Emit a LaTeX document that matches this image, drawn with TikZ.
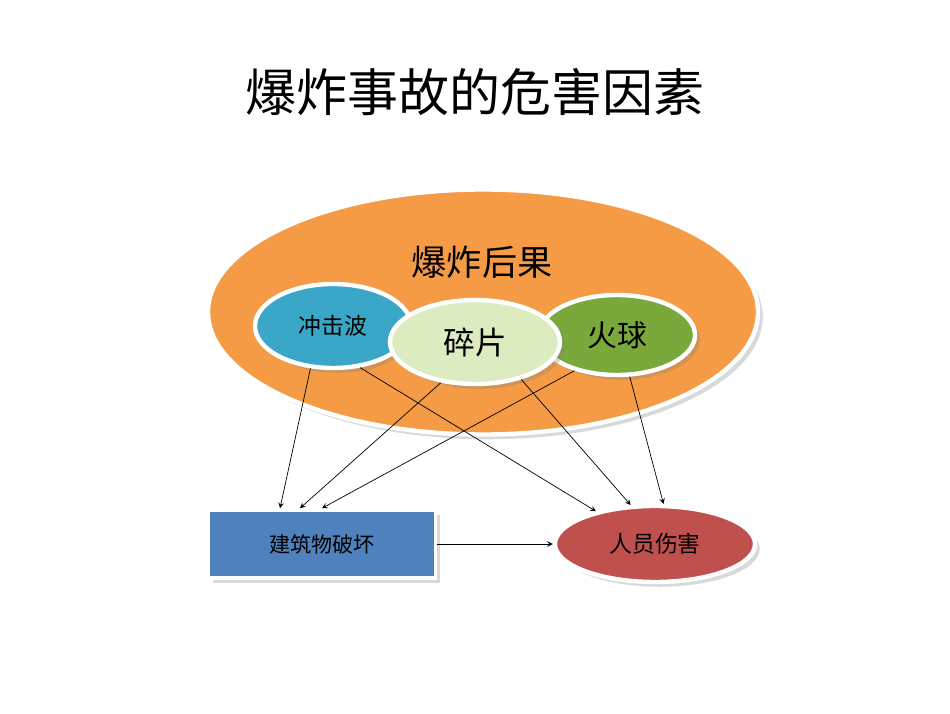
\documentclass[tikz,border=0pt]{standalone}
\usepackage{fontspec}
\setmainfont{Noto Sans CJK SC}
\usetikzlibrary{shapes.geometric,shadows}
\definecolor{orangefill}{HTML}{F59A45}
\definecolor{tealfill}{HTML}{3AA6C8}
\definecolor{greenfill}{HTML}{7AA83A}
\definecolor{lightfill}{HTML}{DDEBC0}
\definecolor{bluefill}{HTML}{4F81BD}
\definecolor{redfill}{HTML}{C0504D}
\begin{document}
\begin{tikzpicture}[->, >=stealth]
    \tikzstyle{blob} = [ellipse, draw=white, line width=2.5pt, drop shadow={opacity=0.3}, inner sep=0pt]
    \tikzstyle{link} = [black, thin]
    \useasboundingbox (0,0) rectangle (19,14.26);

    % Title and frame
    \node (title) at (9.5,12.42) {\fontsize{29}{34}\selectfont 爆炸事故的危害因素};
    \node[blob, fill=orangefill, minimum width=11cm, minimum height=4.9cm] (result) at (9.66,8.02) {};
    \node (resultlbl) at (9.64,9.02) {\fontsize{20}{24}\selectfont 爆炸后果};

    % Sources
    \node[blob, fill=tealfill, minimum width=3.12cm, minimum height=1.68cm] (wave) at (6.66,7.74) {\fontsize{13}{16}\selectfont 冲击波};
    \node[blob, fill=greenfill, minimum width=3.12cm, minimum height=1.6cm] (fire) at (12.34,7.56) {\fontsize{17}{20}\selectfont 火球};
    \node[blob, fill=lightfill, minimum width=3.4cm, minimum height=1.68cm] (frag) at (9.5,7.42) {\fontsize{18}{22}\selectfont 碎片};

    % Effects
    \node[rectangle, draw=white, line width=2pt, drop shadow={opacity=0.3}, fill=bluefill, minimum width=4.54cm, minimum height=1.36cm] (build) at (6.44,3.38) {\fontsize{12}{14}\selectfont 建筑物破坏};
    \node[blob, fill=redfill, minimum width=4cm, minimum height=1.52cm] (people) at (13.1,3.38) {\fontsize{13}{16}\selectfont 人员伤害};

    % Edges
    \draw[link] (wave.-118) -- ([xshift=-0.84cm]build.north);
    \draw[link] (wave.-57) -- (people.151);
    \draw[link] (frag.-130) -- ([xshift=-0.44cm]build.north);
    \draw[link] (frag.-39) -- (people.122);
    \draw[link] (fire.-140) -- (build.north);
    \draw[link] (fire.-73) -- (people.78);
    \draw[link] (build) -- (people);

\end{tikzpicture}
\end{document}
